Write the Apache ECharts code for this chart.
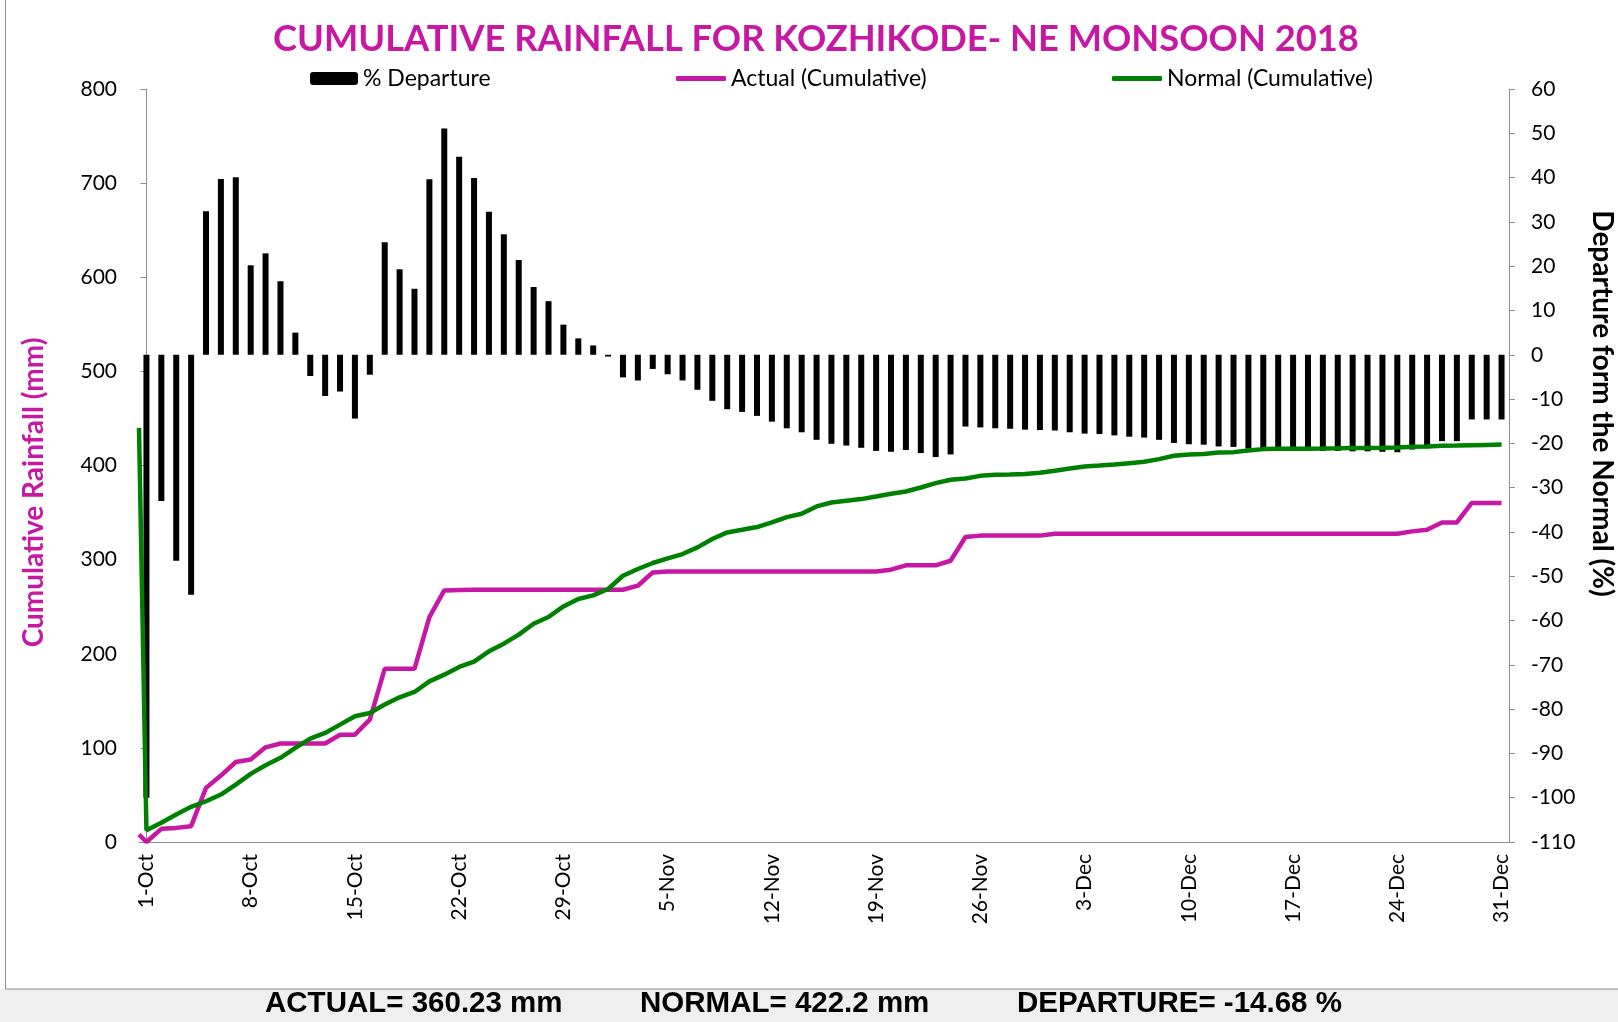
<!DOCTYPE html>
<html>
<head>
<meta charset="utf-8">
<title>Cumulative Rainfall - Kozhikode NE Monsoon 2018</title>
<script src="https://cdn.jsdelivr.net/npm/echarts@6/dist/echarts.min.js"></script>
<style>
  html, body { margin: 0; padding: 0; background: #fff; }
  #main { width: 1618px; height: 1022px; }
</style>
</head>
<body>
<div id="main"></div>
<script>
// day labels 1-Oct .. 31-Dec
var months = [['Oct', 31], ['Nov', 30], ['Dec', 31]]
var days = []
months.forEach(function (m) {
  for (var d = 1; d <= m[1]; d++) days.push(d + '-' + m[0])
})

// % departure from normal (right axis)
var departure = [
  -100, -33, -46.5, -54.2, 32.4, 39.7, 40.1, 20.2, 22.9, 16.6,
  5.0, -4.8, -9.3, -8.3, -14.4, -4.5, 25.4, 19.3, 14.9, 39.6,
  51.1, 44.7, 39.9, 32.3, 27.2, 21.4, 15.3, 12.1, 6.8, 3.7,
  2.1, -0.4, -5.1, -5.8, -3.2, -4.4, -5.8, -7.9, -10.4, -12.3,
  -12.9, -13.8, -15.1, -16.6, -17.5, -19.2, -20.1, -20.5, -21.0, -21.7,
  -21.9, -21.5, -22.2, -23.1, -22.5, -16.2, -16.4, -16.6, -16.7, -16.9,
  -17.0, -17.1, -17.5, -17.8, -17.9, -18.2, -18.5, -18.7, -19.2, -19.9,
  -20.2, -20.3, -20.7, -20.8, -21.2, -21.5, -21.6, -21.6, -21.6, -21.7,
  -21.7, -21.8, -21.8, -21.9, -22.0, -21.4, -21.1, -19.5, -19.5, -14.6,
  -14.6, -14.6
]

// cumulative rainfall, mm (left axis)
var actualCum = [
  0, 14, 15, 16.8, 57.5, 70.6, 85, 87.6, 100.6, 104.6,
  104.6, 104.6, 104.6, 114, 114, 130, 184, 184, 184, 239,
  267.3, 267.8, 268, 268, 268, 268, 268, 268, 268, 268,
  268, 268, 268, 272.3, 286.4, 287.5, 287.5, 287.5, 287.5, 287.5,
  287.5, 287.5, 287.5, 287.5, 287.5, 287.5, 287.5, 287.5, 287.5, 287.5,
  289.3, 293.9, 293.9, 293.9, 298.8, 324, 325.5, 325.5, 325.5, 325.5,
  325.5, 327.5, 327.5, 327.5, 327.5, 327.5, 327.5, 327.5, 327.5, 327.5,
  327.5, 327.5, 327.5, 327.5, 327.5, 327.5, 327.5, 327.5, 327.5, 327.5,
  327.5, 327.5, 327.5, 327.5, 327.5, 330, 331.7, 339.5, 339.5, 360.2,
  360.2, 360.23
]
var normalCum = [
  12.5, 20.4, 29.2, 37.4, 43.3, 50.4, 61, 72.4, 81.5, 89.4,
  100, 109.9, 115.9, 124.7, 133.6, 137.1, 146, 153.7, 159.4, 170.7,
  177.8, 186, 191.6, 202.6, 210.7, 220.3, 231.9, 239, 250.3, 258.2,
  262, 268.8, 282.9, 290, 296.4, 301.3, 305.9, 313, 321.9, 328.9,
  331.7, 334.6, 339.5, 345.2, 348.7, 356.5, 360.7, 362.5, 364.3, 367.1,
  370, 372.4, 376.6, 381.3, 384.8, 386.2, 389, 390.1, 390.4, 390.9,
  392.3, 394.5, 396.8, 399, 400, 401.1, 402.5, 403.9, 406.8, 410.3,
  411.7, 412.1, 413.8, 414.2, 415.9, 417.4, 417.7, 417.8, 417.9, 418,
  418.2, 418.5, 418.6, 418.8, 419.1, 419.9, 420.2, 420.9, 421.2, 421.6,
  421.9, 422.2
]
// first point of each line sits on the left axis
var actualStart = 8
var normalStart = 440

var totals = ['ACTUAL= 360.23 mm', 'NORMAL= 422.2 mm', 'DEPARTURE= -14.68 %']

var MAG = '#C718A3'
var GREEN = '#008000'
var AXIS = '#8c8c8c'
var FONT = 'Lato'

function linePoints (start, vals) {
  var pts = [[-0.5, start]]
  for (var i = 0; i < vals.length; i++) pts.push([i, vals[i]])
  return pts
}
function weekly (index) {
  return index % 7 === 0
}
var legendText = { fontSize: 23, fontFamily: FONT, color: '#000' }
var footFont = 'bold 29.5px "Liberation Sans", Arial'

var chart = echarts.init(document.getElementById('main'))
var option = {
  animation: false,
  backgroundColor: '#fff',
  title: {
    text: 'CUMULATIVE RAINFALL FOR KOZHIKODE- NE MONSOON 2018',
    left: 268,
    top: 16,
    textStyle: { color: MAG, fontSize: 36.3, fontWeight: 'bold', fontFamily: FONT }
  },
  legend: [
    { data: ['% Departure'], left: 310, top: 67, padding: 0, itemWidth: 48, itemHeight: 13, itemGap: 0,
      textStyle: legendText },
    { data: [{ name: 'Actual (Cumulative)', icon: 'roundRect' }], left: 676, top: 67, padding: 0,
      itemWidth: 50, itemHeight: 5, textStyle: legendText },
    { data: [{ name: 'Normal (Cumulative)', icon: 'roundRect' }], left: 1112, top: 67, padding: 0,
      itemWidth: 50, itemHeight: 5, textStyle: legendText }
  ],
  grid: { left: 139, right: 109, top: 89, bottom: 180, containLabel: false, outerBoundsMode: 'none' },
  xAxis: [
    {
      type: 'category',
      data: days,
      boundaryGap: true,
      axisLine: { lineStyle: { color: AXIS } },
      axisTick: { interval: weekly, length: 7, lineStyle: { color: AXIS } },
      axisLabel: { interval: weekly, rotate: 90, margin: 12, fontSize: 21, fontFamily: FONT, color: '#000' },
      splitLine: { show: false }
    },
    { type: 'value', min: -0.5, max: 91.5, show: false }
  ],
  yAxis: [
    {
      type: 'value',
      position: 'left',
      min: 0,
      max: 800,
      interval: 100,
      name: 'Cumulative Rainfall (mm)',
      nameLocation: 'middle',
      nameGap: 91,
      nameTextStyle: { color: MAG, fontSize: 28, fontWeight: 'bold', fontFamily: FONT, padding: [0, 54, 0, 0] },
      axisLine: { show: true, lineStyle: { color: AXIS } },
      axisTick: { show: true, length: 6, lineStyle: { color: AXIS } },
      axisLabel: { margin: 22, fontSize: 21, fontFamily: FONT, color: '#000' },
      splitLine: { show: false }
    },
    {
      type: 'value',
      position: 'right',
      min: -110,
      max: 60,
      interval: 10,
      name: 'Departure form the Normal (%)',
      nameLocation: 'middle',
      nameRotate: -90,
      nameGap: 79,
      nameTextStyle: { color: '#000', fontSize: 28, fontWeight: 'bold', fontFamily: FONT, padding: [0, 124, 0, 0] },
      axisLine: { show: true, lineStyle: { color: AXIS } },
      axisTick: { show: true, length: 6, lineStyle: { color: AXIS } },
      axisLabel: { margin: 22, fontSize: 21, fontFamily: FONT, color: '#000' },
      splitLine: { show: false }
    }
  ],
  series: [
    {
      name: '% Departure',
      type: 'bar',
      xAxisIndex: 0,
      yAxisIndex: 1,
      barWidth: 6,
      itemStyle: { color: '#000' },
      data: departure,
      z: 2
    },
    {
      name: 'Actual (Cumulative)',
      type: 'line',
      xAxisIndex: 1,
      yAxisIndex: 0,
      symbol: 'none',
      lineStyle: { color: MAG, width: 4.5 },
      itemStyle: { color: MAG },
      data: linePoints(actualStart, actualCum),
      z: 3
    },
    {
      name: 'Normal (Cumulative)',
      type: 'line',
      xAxisIndex: 1,
      yAxisIndex: 0,
      symbol: 'none',
      lineStyle: { color: GREEN, width: 4.5 },
      itemStyle: { color: GREEN },
      data: linePoints(normalStart, normalCum),
      z: 4
    }
  ],
  graphic: [
    { type: 'rect', z: -10, silent: true,
      shape: { x: 0, y: 989, width: 1618, height: 33 },
      style: { fill: '#efefef', stroke: null } },
    { type: 'rect', z: -5, silent: true,
      shape: { x: 5.5, y: -5, width: 1700, height: 994 },
      style: { fill: null, stroke: '#8c8c8c', lineWidth: 1 } },
    { type: 'text', left: 265, top: 989,
      style: { text: totals[0], font: footFont, fill: '#000' } },
    { type: 'text', left: 640, top: 989,
      style: { text: totals[1], font: footFont, fill: '#000' } },
    { type: 'text', left: 1017, top: 989,
      style: { text: totals[2], font: footFont, fill: '#000' } }
  ]
}
chart.setOption(option)
</script>
</body>
</html>
